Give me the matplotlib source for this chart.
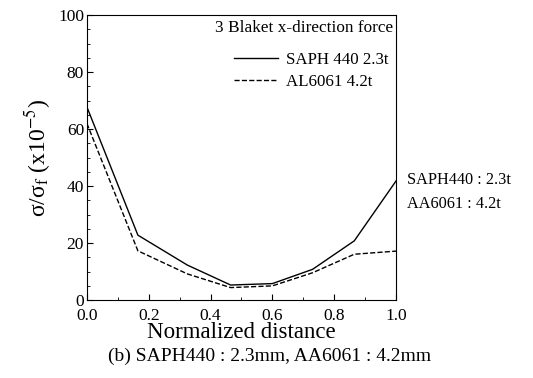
import matplotlib.pyplot as plt
from matplotlib.ticker import MultipleLocator

plt.rcParams['font.family'] = 'Liberation Serif'
plt.rcParams['mathtext.fontset'] = 'stix'

x_dist = [0.0, 0.165, 0.325, 0.465, 0.6, 0.73, 0.865, 1.0]
saph440 = [67.8, 22.8, 12.3, 5.3, 5.8, 10.8, 20.8, 41.8]
al6061 = [62.0, 17.3, 9.2, 4.4, 5.0, 9.6, 16.1, 17.2]

fig = plt.figure(figsize=(5.33, 3.78), dpi=100)
ax = fig.add_axes([0.163, 0.206, 0.580, 0.754])

ax.plot(x_dist, saph440, 'k-', lw=1.0, label='SAPH 440 2.3t')
ax.plot(x_dist, al6061, 'k--', lw=1.0, label='AL6061 4.2t')

ax.set_xlim(0, 1.0)
ax.set_ylim(0, 100)
ax.xaxis.set_major_locator(MultipleLocator(0.2))
ax.xaxis.set_minor_locator(MultipleLocator(0.1))
ax.yaxis.set_major_locator(MultipleLocator(20))
ax.yaxis.set_minor_locator(MultipleLocator(5))
ax.xaxis.set_major_formatter(lambda v, p: f'{v:.1f}')
ax.tick_params(which='both', direction='in', labelsize=12.5)
ax.tick_params(which='major', length=4)
ax.tick_params(which='minor', length=2.5)
ax.tick_params(axis='x', pad=5.5)
ax.tick_params(axis='y', pad=2)

ax.set_xlabel('Normalized distance', fontsize=16.5, labelpad=-1)
ax.set_ylabel(r'σ/σ$_\mathrm{f}$ (x10$^{-5}$)', fontsize=17, labelpad=4)

ax.text(0.99, 0.955, '3 Blaket x-direction force', transform=ax.transAxes,
        ha='right', va='center', fontsize=12.4)
ax.legend(loc='upper left', bbox_to_anchor=(0.475, 0.87), frameon=False,
          fontsize=12.2, handlelength=2.6, handletextpad=0.5,
          borderpad=0, borderaxespad=0, labelspacing=0.35)

fig.text(407 / 533, 1 - 180 / 378, 'SAPH440 : 2.3t', ha='left', va='center', fontsize=11.7)
fig.text(407 / 533, 1 - 204 / 378, 'AA6061 : 4.2t', ha='left', va='center', fontsize=11.7)
fig.text(270 / 533, 1 - 356 / 378, '(b) SAPH440 : 2.3mm, AA6061 : 4.2mm',
         ha='center', va='center', fontsize=14)

fig.savefig('out.png', dpi=100)
